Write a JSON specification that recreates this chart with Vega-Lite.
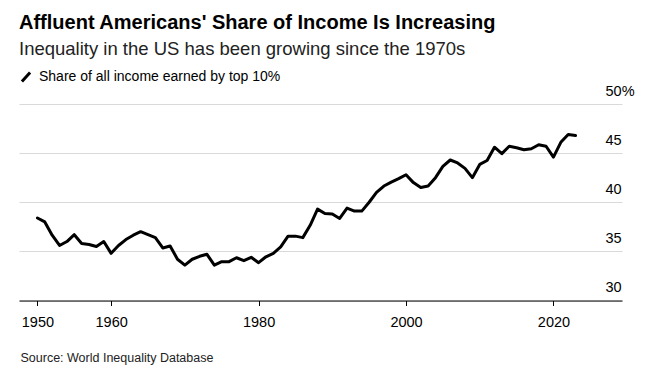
{
  "$schema": "https://vega.github.io/schema/vega-lite/v6.json",
  "width": 603,
  "height": 196.5,
  "autosize": {"type": "none"},
  "padding": {"left": 19, "top": 104, "right": 30, "bottom": 74.5},
  "background": "white",
  "title": {
    "text": "Affluent Americans' Share of Income Is Increasing",
    "subtitle": "Inequality in the US has been growing since the 1970s",
    "anchor": "start",
    "frame": "group",
    "font": "Liberation Sans",
    "fontSize": 20,
    "fontWeight": "bold",
    "color": "black",
    "subtitleFont": "Liberation Sans",
    "subtitleFontSize": 18.5,
    "subtitleColor": "#222222",
    "subtitlePadding": 7,
    "offset": 8
  },
  "data": {
    "values": [
      {"year": 1950, "value": 38.4},
      {"year": 1951, "value": 38.0},
      {"year": 1952, "value": 36.65},
      {"year": 1953, "value": 35.6},
      {"year": 1954, "value": 36.0},
      {"year": 1955, "value": 36.7},
      {"year": 1956, "value": 35.8},
      {"year": 1957, "value": 35.7},
      {"year": 1958, "value": 35.5},
      {"year": 1959, "value": 36.0},
      {"year": 1960, "value": 34.8},
      {"year": 1961, "value": 35.6},
      {"year": 1962, "value": 36.2},
      {"year": 1963, "value": 36.65},
      {"year": 1964, "value": 37.0},
      {"year": 1965, "value": 36.7},
      {"year": 1966, "value": 36.4},
      {"year": 1967, "value": 35.35},
      {"year": 1968, "value": 35.55},
      {"year": 1969, "value": 34.2},
      {"year": 1970, "value": 33.6},
      {"year": 1971, "value": 34.2},
      {"year": 1972, "value": 34.5},
      {"year": 1973, "value": 34.7},
      {"year": 1974, "value": 33.6},
      {"year": 1975, "value": 33.95},
      {"year": 1976, "value": 33.95},
      {"year": 1977, "value": 34.35},
      {"year": 1978, "value": 34.05},
      {"year": 1979, "value": 34.4},
      {"year": 1980, "value": 33.85},
      {"year": 1981, "value": 34.45},
      {"year": 1982, "value": 34.8},
      {"year": 1983, "value": 35.45},
      {"year": 1984, "value": 36.55},
      {"year": 1985, "value": 36.55},
      {"year": 1986, "value": 36.4},
      {"year": 1987, "value": 37.65},
      {"year": 1988, "value": 39.3},
      {"year": 1989, "value": 38.85},
      {"year": 1990, "value": 38.8},
      {"year": 1991, "value": 38.35},
      {"year": 1992, "value": 39.4},
      {"year": 1993, "value": 39.1},
      {"year": 1994, "value": 39.1},
      {"year": 1995, "value": 40.0},
      {"year": 1996, "value": 41.0},
      {"year": 1997, "value": 41.65},
      {"year": 1998, "value": 42.05},
      {"year": 1999, "value": 42.4},
      {"year": 2000, "value": 42.8},
      {"year": 2001, "value": 42.0},
      {"year": 2002, "value": 41.5},
      {"year": 2003, "value": 41.65},
      {"year": 2004, "value": 42.5},
      {"year": 2005, "value": 43.65},
      {"year": 2006, "value": 44.3},
      {"year": 2007, "value": 44.0},
      {"year": 2008, "value": 43.45},
      {"year": 2009, "value": 42.5},
      {"year": 2010, "value": 43.85},
      {"year": 2011, "value": 44.25},
      {"year": 2012, "value": 45.6},
      {"year": 2013, "value": 44.95},
      {"year": 2014, "value": 45.7},
      {"year": 2015, "value": 45.55},
      {"year": 2016, "value": 45.35},
      {"year": 2017, "value": 45.45},
      {"year": 2018, "value": 45.85},
      {"year": 2019, "value": 45.7},
      {"year": 2020, "value": 44.6},
      {"year": 2021, "value": 46.1},
      {"year": 2022, "value": 46.9},
      {"year": 2023, "value": 46.8}
    ]
  },
  "mark": {"type": "line", "strokeWidth": 3, "strokeJoin": "round", "strokeCap": "round"},
  "encoding": {
    "x": {
      "field": "year",
      "type": "quantitative",
      "scale": {"domain": [1947.5, 2029.3], "nice": false, "zero": false},
      "axis": {
        "values": [1950, 1960, 1980, 2000, 2020],
        "format": "d",
        "grid": false,
        "labelFlush": false,
        "domainColor": "black",
        "domainWidth": 1,
        "tickColor": "black",
        "tickSize": 5,
        "labelFont": "Liberation Sans",
        "labelFontSize": 14.5,
        "labelPadding": 10,
        "labelColor": "black",
        "title": "Source: World Inequality Database",
        "titleFont": "Liberation Sans",
        "titleAnchor": "start",
        "titleAlign": "left",
        "titleX": 1,
        "titleY": 57,
        "titleFontSize": 12.5,
        "titleFontWeight": "normal",
        "titleColor": "#222222",
        "titleBaseline": "middle"
      }
    },
    "y": {
      "field": "value",
      "type": "quantitative",
      "scale": {"domain": [30, 50], "nice": false, "zero": false},
      "axis": {
        "orient": "right",
        "values": [30, 35, 40, 45, 50],
        "grid": true,
        "gridColor": "#d9d9d9",
        "gridWidth": 1,
        "domain": false,
        "ticks": false,
        "tickSize": 0,
        "labelAlign": "left",
        "labelPadding": -17,
        "labelBaseline": "alphabetic",
        "labelOffset": -9,
        "labelFont": "Liberation Sans",
        "labelFontSize": 14.5,
        "labelColor": "black",
        "labelExpr": "datum.value == 50 ? '50%' : datum.label",
        "title": null
      }
    },
    "color": {
      "datum": "Share of all income earned by top 10%",
      "type": "nominal",
      "scale": {"range": ["black"]},
      "legend": {
        "orient": "none",
        "legendX": -4,
        "legendY": -38,
        "title": null,
        "symbolType": "M-0.45,0.5L0.45,-0.5",
        "symbolStrokeWidth": 3,
        "symbolSize": 330,
        "symbolStrokeColor": "black",
        "labelFont": "Liberation Sans",
        "labelFontSize": 14,
        "labelColor": "black",
        "labelOffset": 2,
        "labelLimit": 0
      }
    }
  },
  "config": {"view": {"stroke": null}}
}
